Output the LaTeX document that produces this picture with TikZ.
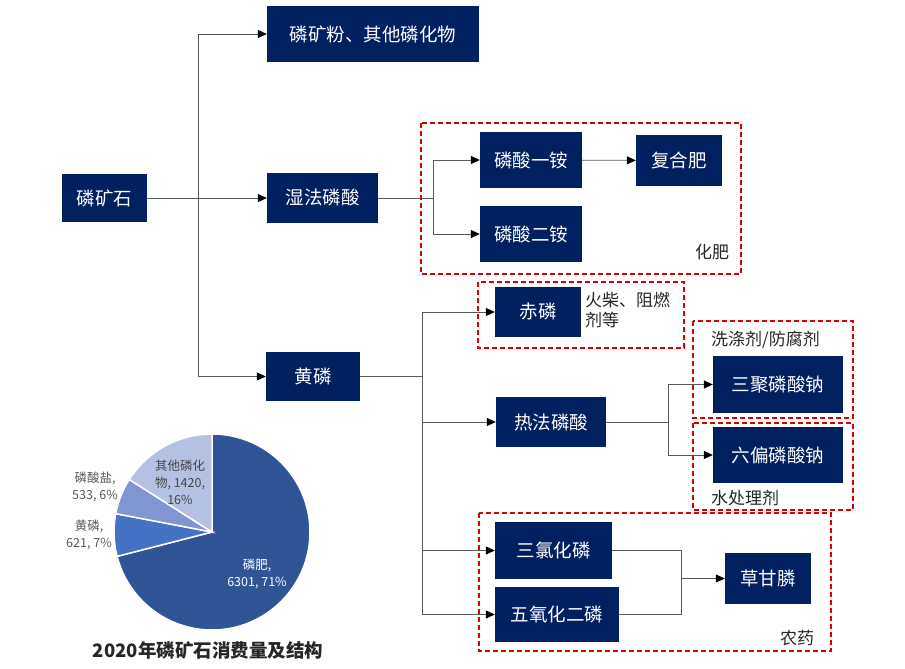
\documentclass[tikz,border=0pt]{standalone}
\usepackage{fontspec}
\setmainfont{Noto Sans CJK SC}
\usepackage{tikz}
\usetikzlibrary{arrows.meta, positioning}
\definecolor{azul}{HTML}{002060}
\definecolor{rojo}{HTML}{D90000}
\definecolor{linea}{HTML}{595959}
\definecolor{texto}{HTML}{262626}
\definecolor{gris}{HTML}{595959}
\definecolor{pieA}{HTML}{2F5597}
\definecolor{pieB}{HTML}{4472C4}
\definecolor{pieC}{HTML}{7F96D2}
\definecolor{pieD}{HTML}{B4C1E3}

\begin{document}
\begin{tikzpicture}[x=1pt, y=-1pt,
      bloque/.style={fill=azul, text=white, inner sep=0pt,
                     font=\fontsize{18.5}{20}\selectfont},
      conector/.style={draw=linea, line width=0.8pt},
      flecha/.style={conector, -{Triangle[length=9pt, width=8pt, color=black]}},
      marco/.style={draw=rojo, line width=1.6pt, dash pattern=on 5pt off 3pt},
      nota/.style={text=texto, font=\fontsize{17}{20}\selectfont, inner sep=0pt},
      etiqueta/.style={text=gris, align=center, inner sep=0pt,
                       font=\fontsize{12.5}{17}\selectfont},
      rebanada/.style={draw=white, line width=1.5pt}]
    \useasboundingbox (0,0) rectangle (905,669);

    % cadena principal
    \node[bloque, minimum width=85pt, minimum height=48pt] (roca) at (104.5,198) {磷矿石};
    \node[bloque, minimum width=212pt, minimum height=56pt] (polvo) at (373,34) {磷矿粉、其他磷化物};
    \node[bloque, minimum width=111pt, minimum height=50pt] (humedo) at (322.5,198) {湿法磷酸};
    \node[bloque, minimum width=94pt, minimum height=49pt] (amarillo) at (313,376.5) {黄磷};

    % via humeda
    \node[bloque, minimum width=102pt, minimum height=56pt] (mono) at (531,160) {磷酸一铵};
    \node[bloque, minimum width=102pt, minimum height=56pt] (di) at (531,234) {磷酸二铵};
    \node[bloque, minimum width=86pt, minimum height=51pt] (compuesto) at (679,160.5) {复合肥};

    % via fosforo amarillo
    \node[bloque, minimum width=86pt, minimum height=50pt] (rojoP) at (538,312) {赤磷};
    \node[bloque, minimum width=110pt, minimum height=50pt] (termico) at (551,422) {热法磷酸};
    \node[bloque, minimum width=130pt, minimum height=57pt] (tripoli) at (778,384.5) {三聚磷酸钠};
    \node[bloque, minimum width=130pt, minimum height=56pt] (hexa) at (778,455) {六偏磷酸钠};
    \node[bloque, minimum width=117pt, minimum height=57pt] (tricloruro) at (553.5,550.5) {三氯化磷};
    \node[bloque, minimum width=124pt, minimum height=55pt] (pentoxido) at (557,614.5) {五氧化二磷};
    \node[bloque, minimum width=86pt, minimum height=51pt] (glifosato) at (768,578.5) {草甘膦};

    % puntos de union
    \coordinate (troncoA) at (198,198);
    \coordinate (troncoB) at (433,198);
    \coordinate (troncoC) at (422,376.5);
    \coordinate (troncoD) at (668,422);
    \coordinate (troncoE) at (681,578.5);

    \draw[conector] (roca) -- (troncoA);
    \draw[flecha] (troncoA) |- (polvo);
    \draw[flecha] (troncoA) -- (humedo);
    \draw[flecha] (troncoA) |- (amarillo);

    \draw[conector] (humedo) -- (troncoB);
    \draw[flecha] (troncoB) |- (mono);
    \draw[flecha] (troncoB) |- (di);
    \draw[flecha] (mono) -- (compuesto);

    \draw[conector] (amarillo) -- (troncoC);
    \draw[flecha] (troncoC) |- (rojoP);
    \draw[flecha] (troncoC) |- (termico);
    \draw[flecha] (troncoC) |- (tricloruro);
    \draw[flecha] (troncoC) |- (pentoxido);

    \draw[conector] (termico) -- (troncoD);
    \draw[flecha] (troncoD) |- (tripoli);
    \draw[flecha] (troncoD) |- (hexa);

    \draw[conector] (tricloruro.east) -| (troncoE);
    \draw[conector] (pentoxido.east) -| (troncoE);
    \draw[flecha] (troncoE) -- (glifosato);

    % marcos de uso
    \draw[marco] (421,123) rectangle (741,274);
    \draw[marco] (478,282) rectangle (684,348);
    \draw[marco] (693,321) rectangle (853,418);
    \draw[marco] (693,423) rectangle (853,510);
    \draw[marco] (479,513) rectangle (831,651);

    \node[nota] (fertilizante) at (712,252) {化肥};
    \node[nota, anchor=west, align=left] (usoRojo) at (585,310) {火柴、阻燃\\剂等};
    \node[nota, anchor=west] (detergente) at (711,340) {洗涤剂/防腐剂};
    \node[nota, anchor=west] (agua) at (711,498) {水处理剂};
    \node[nota] (pesticida) at (797,638) {农药};

    % grafico de sectores
    \begin{scope}[shift={(212,532)}, y=1pt]
      \filldraw[rebanada, fill=pieA] (0,0) -- (90:98pt) arc[start angle=90, end angle=-165.6, radius=98pt] -- cycle;
      \filldraw[rebanada, fill=pieB] (0,0) -- (-165.6:98pt) arc[start angle=-165.6, end angle=-190.8, radius=98pt] -- cycle;
      \filldraw[rebanada, fill=pieC] (0,0) -- (-190.8:98pt) arc[start angle=-190.8, end angle=-212.4, radius=98pt] -- cycle;
      \filldraw[rebanada, fill=pieD] (0,0) -- (-212.4:98pt) arc[start angle=-212.4, end angle=-270, radius=98pt] -- cycle;
    \end{scope}

    \node[etiqueta, text=white] (lblFert) at (257,574) {磷肥,\\6301, 71\%};
    \node[etiqueta] (lblAmarillo) at (89,535) {黄磷,\\621, 7\%};
    \node[etiqueta] (lblSales) at (95,486.5) {磷酸盐,\\533, 6\%};
    \node[etiqueta, text=texto!85] (lblOtros) at (180,482) {其他磷化\\物, 1420,\\16\%};

    \node[text=texto, inner sep=0pt, font=\bfseries\fontsize{18.5}{20}\selectfont] (titulo) at (208,650) {2020年磷矿石消费量及结构};
  \end{tikzpicture}
\end{document}
